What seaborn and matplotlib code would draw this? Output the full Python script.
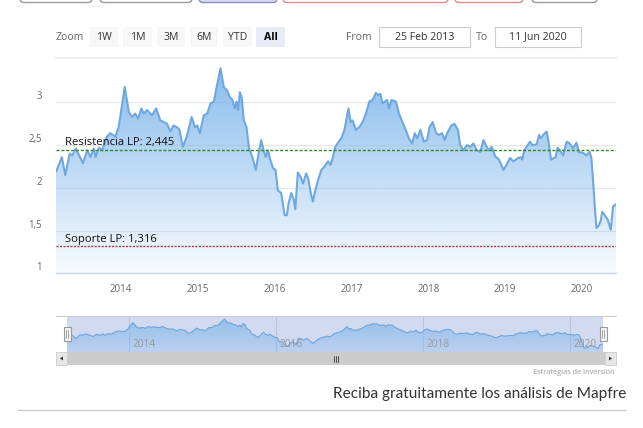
import numpy as np
import pandas as pd
import matplotlib
matplotlib.use('Agg')
import matplotlib.pyplot as plt
import matplotlib.dates as mdates
from matplotlib.patches import Rectangle, FancyBboxPatch, Polygon
from matplotlib.colors import to_rgb
import seaborn as sns

# Mapfre share price (EUR)
dates = [
    "2013-02-25", "2013-03-25", "2013-04-10", "2013-05-01", "2013-05-14", "2013-05-30", "2013-07-03",
    "2013-07-24", "2013-08-08", "2013-08-24", "2013-09-01", "2013-09-17", "2013-10-02", "2013-10-26",
    "2013-11-10", "2013-12-04", "2013-12-20",
    "2014-01-18", "2014-02-06", "2014-02-21", "2014-03-09", "2014-03-22", "2014-04-07", "2014-04-18",
    "2014-05-04", "2014-05-28", "2014-06-16", "2014-07-06", "2014-08-07", "2014-08-23", "2014-09-07",
    "2014-09-23", "2014-10-05", "2014-10-21", "2014-11-09", "2014-12-02", "2014-12-18", "2014-12-29",
    "2015-01-10", "2015-01-29", "2015-02-14", "2015-03-02", "2015-03-18", "2015-03-31", "2015-04-18",
    "2015-05-04", "2015-05-20", "2015-06-02", "2015-06-14", "2015-06-25", "2015-07-03", "2015-07-11",
    "2015-07-19", "2015-07-28", "2015-08-07", "2015-08-20", "2015-09-01", "2015-09-17", "2015-10-03",
    "2015-10-19", "2015-10-29", "2015-11-09", "2015-11-19", "2015-11-30", "2015-12-11", "2015-12-24",
    "2016-01-05", "2016-01-16", "2016-02-01", "2016-02-17", "2016-02-28", "2016-03-07", "2016-03-20",
    "2016-04-01", "2016-04-08", "2016-04-20", "2016-05-03", "2016-05-14", "2016-05-30", "2016-06-10",
    "2016-06-20", "2016-07-01", "2016-07-09", "2016-07-25", "2016-08-10", "2016-08-25", "2016-09-10",
    "2016-09-23", "2016-10-04", "2016-10-15", "2016-10-31", "2016-11-13", "2016-11-28", "2016-12-06",
    "2016-12-17", "2016-12-27",
    "2017-01-05", "2017-01-21", "2017-02-06", "2017-02-22", "2017-03-10", "2017-03-26", "2017-04-11",
    "2017-04-26", "2017-05-07", "2017-05-17", "2017-05-28", "2017-06-08", "2017-06-18", "2017-06-28",
    "2017-07-09", "2017-07-30", "2017-08-14", "2017-08-30", "2017-09-15", "2017-09-30", "2017-10-16",
    "2017-10-28", "2017-11-09", "2017-11-24", "2017-12-10", "2017-12-26",
    "2018-01-06", "2018-01-21", "2018-02-07", "2018-02-19", "2018-03-07", "2018-03-19", "2018-04-04",
    "2018-04-20", "2018-05-05", "2018-05-21", "2018-06-01", "2018-06-17", "2018-07-03", "2018-07-19",
    "2018-08-03", "2018-08-19", "2018-09-04", "2018-09-20", "2018-10-01", "2018-10-13", "2018-10-29",
    "2018-11-14", "2018-12-03", "2018-12-24",
    "2019-01-08", "2019-01-24", "2019-02-09", "2019-03-04", "2019-03-17", "2019-03-23", "2019-04-02",
    "2019-04-18", "2019-04-29", "2019-05-10", "2019-05-31", "2019-06-11", "2019-06-20", "2019-07-01",
    "2019-07-17", "2019-07-25", "2019-08-07", "2019-08-22", "2019-08-29", "2019-09-07", "2019-09-18",
    "2019-10-04", "2019-10-20", "2019-11-04", "2019-11-20", "2019-12-06", "2019-12-17",
    "2020-01-06", "2020-01-22", "2020-02-07", "2020-02-15", "2020-02-23", "2020-03-02", "2020-03-10",
    "2020-03-21", "2020-03-31", "2020-04-06", "2020-04-16", "2020-04-23", "2020-05-04", "2020-05-17",
    "2020-05-28", "2020-06-11",
]
prices = [
    2.19, 2.36, 2.15, 2.40, 2.38, 2.46, 2.29, 2.44, 2.36, 2.46, 2.36, 2.47, 2.44, 2.60, 2.64, 2.60, 2.71,
    3.18, 2.89, 2.83, 2.87, 2.81, 2.93, 2.87, 2.91, 2.85, 2.93, 2.79, 2.75, 2.66, 2.73, 2.71, 2.68, 2.48,
    2.60, 2.83, 2.71, 2.73,
    2.64, 2.85, 2.87, 2.99, 3.01, 3.18, 3.40, 3.18, 3.14, 3.06, 3.03, 2.93, 3.01, 2.91, 3.12, 3.06, 2.79,
    2.71, 2.46, 2.36, 2.21, 2.44, 2.56, 2.44, 2.36, 2.44, 2.33, 2.23,
    2.21, 1.97, 1.94, 1.68, 1.68, 1.82, 1.94, 1.86, 1.75, 2.18, 2.13, 2.05, 2.17, 2.09, 1.94, 1.84, 1.94,
    2.09, 2.21, 2.25, 2.31, 2.27, 2.36, 2.48, 2.54, 2.58, 2.68, 2.79, 2.93, 2.77,
    2.79, 2.68, 2.71, 2.77, 2.87, 3.01, 3.03, 3.11, 3.09, 3.10, 2.99, 3.01, 3.03, 2.93, 3.03, 3.01, 2.87,
    2.77, 2.68, 2.58, 2.52, 2.64, 2.58, 2.68, 2.54, 2.56,
    2.71, 2.77, 2.64, 2.62, 2.64, 2.56, 2.66, 2.73, 2.75, 2.68, 2.50, 2.44, 2.50, 2.48, 2.52, 2.44, 2.42,
    2.56, 2.50, 2.44, 2.48, 2.37, 2.33, 2.21,
    2.27, 2.35, 2.31, 2.35, 2.36, 2.33, 2.44, 2.50, 2.54, 2.50, 2.51, 2.62, 2.58, 2.62, 2.66, 2.56, 2.33,
    2.35, 2.36, 2.47, 2.44, 2.38, 2.54, 2.52, 2.46, 2.53, 2.42,
    2.41, 2.38, 2.42, 2.35, 2.09, 1.78, 1.53, 1.56, 1.62, 1.72, 1.69, 1.66, 1.62, 1.51, 1.78, 1.81,
]

resistance = 2.445
support = 1.316
resistance_label = "Resistencia LP: 2,445"
support_label = "Soporte LP: 1,316"
y_ticks = [1, 1.5, 2, 2.5, 3]
y_tick_labels = ["1", "1,5", "2", "2,5", "3"]
year_ticks = [2014, 2015, 2016, 2017, 2018, 2019, 2020]
nav_years = [2014, 2016, 2018, 2020]
zoom_buttons = ["1W", "1M", "3M", "6M", "YTD", "All"]
range_from = "25 Feb 2013"
range_to = "11 Jun 2020"

df = pd.DataFrame({"date": pd.to_datetime(dates), "price": prices})

sns.set_theme(style="white")
plt.rcParams['font.family'] = ['Open Sans', 'DejaVu Sans']

W, H = 643, 428
fig = plt.figure(figsize=(W / 100, H / 100), dpi=100)


def box(l, t, r, b):
    return [l / W, 1 - b / H, (r - l) / W, (b - t) / H]


def gradient_fill(axis, base, top, a_top, a_bot, color='#7cb5ec'):
    poly = axis.fill_between(df["date"], df["price"], base, color='none', lw=0)
    path = poly.get_paths()[0]
    g = np.zeros((256, 1, 4))
    g[..., :3] = to_rgb(color)
    g[..., 3] = np.linspace(a_top, a_bot, 256)[:, None]
    x0 = mdates.date2num(df["date"].iloc[0])
    x1 = mdates.date2num(df["date"].iloc[-1])
    im = axis.imshow(g, extent=[x0, x1, base, top], aspect='auto', origin='upper', zorder=2)
    im.set_clip_path(path, transform=axis.transData)
    axis.set_xlim(x0, x1)
    axis.set_ylim(base, top)


# --- main chart ---
ax = fig.add_axes(box(56, 58, 616, 273.3))
sns.lineplot(data=df, x="date", y="price", ax=ax, color='#6fa8e0', lw=1.5, zorder=3)
gradient_fill(ax, 1, 3.52, 0.95, 0.06)

ax.axhline(resistance, color='#2e8b2e', lw=1, ls=(0, (2.2, 1.3)), zorder=4)
ax.axhline(support, color='#b23b3b', lw=1, ls=(0, (1.5, 1.0)), zorder=4)
ax.annotate(resistance_label, xy=(0.016, resistance), xycoords=('axes fraction', 'data'),
            xytext=(0, 1), textcoords='offset points', va='bottom', fontsize=8.1, color='#111')
ax.annotate(support_label, xy=(0.016, support), xycoords=('axes fraction', 'data'),
            xytext=(0, 1), textcoords='offset points', va='bottom', fontsize=8.1, color='#111')

ax.set_yticks(y_ticks)
ax.set_yticklabels(y_tick_labels)
for lab in ax.get_yticklabels():
    lab.set_verticalalignment('bottom')
ax.tick_params(axis='y', length=0, pad=10, labelcolor='#666666', labelsize=6.9)
ax.set_xticks([mdates.date2num(pd.Timestamp(f"{y}-01-01")) for y in year_ticks])
ax.set_xticklabels([str(y) for y in year_ticks])
ax.tick_params(axis='x', length=5, width=0.8, color='#ccd6eb', labelcolor='#666666',
               labelsize=7, pad=3)
ax.yaxis.grid(True, color='#e6e6e6', lw=0.8)
ax.xaxis.grid(False)
for s in ['left', 'top', 'right']:
    ax.spines[s].set_visible(False)
ax.spines['bottom'].set_color('#ccd6eb')
ax.spines['bottom'].set_linewidth(1)
ax.set_xlabel('')
ax.set_ylabel('')

# --- navigator ---
nav = fig.add_axes(box(67, 316, 603, 352))
nav.set_facecolor('#d1daef')
sns.lineplot(data=df, x="date", y="price", ax=nav, color='#6ea5dd', lw=0.8, zorder=3)
gradient_fill(nav, 1.3, 3.6, 0.75, 0.25)
for y in nav_years:
    d = mdates.date2num(pd.Timestamp(f"{y}-01-01"))
    nav.axvline(d, color='#b9c4dd', lw=0.8, zorder=1)
    nav.annotate(str(y), xy=(d, 0.2), xycoords=('data', 'axes fraction'), xytext=(2, 0),
                 textcoords='offset points', va='center', fontsize=7.3, color='#999999')
nav.set_xticks([])
nav.set_yticks([])
nav.set_xlabel('')
nav.set_ylabel('')
for s in nav.spines.values():
    s.set_visible(False)

# --- page chrome (pixel coordinates) ---
ui = fig.add_axes([0, 0, 1, 1], zorder=10)
ui.set_xlim(0, W)
ui.set_ylim(H, 0)
ui.axis('off')
ui.patch.set_alpha(0)

top_boxes = [(20, 92, '#9a9a9a', 'white'), (100, 192, '#9a9a9a', 'white'),
             (199, 277, '#8a8fc0', '#d9dcf2'), (283, 448, '#e08a8a', 'white'),
             (455, 523, '#e08a8a', 'white'), (532, 597, '#9a9a9a', 'white')]
for l, r, ec, fc in top_boxes:
    ui.add_patch(FancyBboxPatch((l, -20), r - l, 22.5, boxstyle="round,pad=0,rounding_size=4",
                                ec=ec, fc=fc, lw=1))

ui.text(56, 37, "Zoom", fontsize=7.6, color='#666666', va='center', ha='left')
btn_x = [(90, 118), (123, 152), (157, 185), (190, 218), (223, 252), (256, 285)]
for (l, r), name in zip(btn_x, zoom_buttons):
    sel = name == "All"
    ui.add_patch(Rectangle((l, 27), r - l, 20, fc='#e6ebf5' if sel else '#f7f7f7', ec='none'))
    ui.text((l + r) / 2, 37, name, fontsize=7.6, ha='center', va='center',
            color='#000000' if sel else '#333333', fontweight='bold' if sel else 'normal')

ui.text(346, 37, "From", fontsize=7.6, color='#666666', va='center', ha='left')
ui.add_patch(Rectangle((379, 27), 91, 20, fc='white', ec='#cccccc', lw=0.8))
ui.text(424.5, 37, range_from, fontsize=7.6, color='#333333', va='center', ha='center')
ui.text(476, 37, "To", fontsize=7.6, color='#666666', va='center', ha='left')
ui.add_patch(Rectangle((495, 27), 86, 20, fc='white', ec='#cccccc', lw=0.8))
ui.text(538, 37, range_to, fontsize=7.6, color='#333333', va='center', ha='center')
ui.plot([56, 616], [57.5, 57.5], color='#eeeeee', lw=1.6)

# navigator outline and handles
ui.plot([56, 616], [316, 316], color='#cccccc', lw=0.8)
for hx in (67, 603):
    ui.add_patch(Rectangle((hx - 3.5, 327), 7, 14, fc='#f2f2f2', ec='#999999', lw=0.8))
    ui.plot([hx - 1, hx - 1], [330, 338], color='#999999', lw=0.6)
    ui.plot([hx + 1, hx + 1], [330, 338], color='#999999', lw=0.6)

# scrollbar
ui.add_patch(Rectangle((56, 352), 560, 13, fc='#f2f2f2', ec='none'))
ui.add_patch(Rectangle((67, 352), 538, 13, fc='#cccccc', ec='none'))
ui.add_patch(Rectangle((56, 352), 11, 13, fc='#e6e6e6', ec='#cccccc', lw=0.6))
ui.add_patch(Rectangle((605, 352), 11, 13, fc='#e6e6e6', ec='#cccccc', lw=0.6))
ui.add_patch(Polygon([[60, 358.5], [63, 356.5], [63, 360.5]], fc='#333333', ec='none'))
ui.add_patch(Polygon([[612, 358.5], [609, 356.5], [609, 360.5]], fc='#333333', ec='none'))
for gx in (333.5, 335.5, 337.5):
    ui.plot([gx, gx], [355.5, 361.5], color='#333333', lw=0.6)

ui.text(615, 372, "Estrategias de Inversión", fontsize=5.3, color='#999999', ha='right', va='center')
ui.text(626, 394, "Reciba gratuitamente los análisis de Mapfre", fontsize=11.1, color='#333333',
        ha='right', va='center', family=['Lato', 'DejaVu Sans'])
ui.plot([18, 626], [410, 410], color='#cccccc', lw=1)

fig.savefig('out.png', dpi=100)
